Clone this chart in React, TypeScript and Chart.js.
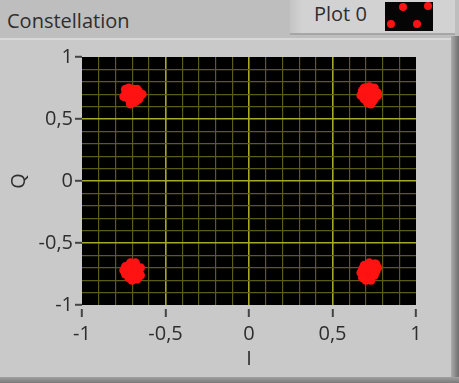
import React, { useEffect, useRef } from "react";
import { Chart, registerables } from "chart.js";

Chart.register(...registerables);

// ---- data ----
const seriesName = "Plot 0";
const chartTitle = "Constellation";
const xAxisTitle = "I";
const yAxisTitle = "Q";
const axisMin = -1;
const axisMax = 1;

const clusterTopLeftI = [-0.74, -0.72, -0.69, -0.66, -0.73, -0.70, -0.67, -0.64, -0.75, -0.71, -0.68, -0.65, -0.72, -0.69, -0.66, -0.70, -0.74, -0.67, -0.71, -0.68];
const clusterTopLeftQ = [0.74, 0.75, 0.74, 0.72, 0.71, 0.72, 0.71, 0.70, 0.68, 0.69, 0.68, 0.69, 0.66, 0.65, 0.66, 0.63, 0.70, 0.74, 0.62, 0.64];

const clusterTopRightI = [0.69, 0.72, 0.75, 0.68, 0.71, 0.74, 0.77, 0.67, 0.70, 0.73, 0.76, 0.69, 0.72, 0.75, 0.71, 0.74, 0.68, 0.77, 0.70, 0.73];
const clusterTopRightQ = [0.75, 0.76, 0.75, 0.72, 0.73, 0.72, 0.71, 0.69, 0.70, 0.70, 0.68, 0.66, 0.67, 0.66, 0.63, 0.64, 0.73, 0.69, 0.75, 0.62];

const clusterBottomLeftI = [-0.71, -0.68, -0.74, -0.71, -0.68, -0.65, -0.75, -0.72, -0.69, -0.66, -0.74, -0.71, -0.68, -0.65, -0.72, -0.69, -0.70, -0.67, -0.73, -0.66];
const clusterBottomLeftQ = [-0.66, -0.66, -0.69, -0.69, -0.68, -0.70, -0.72, -0.72, -0.71, -0.73, -0.75, -0.75, -0.74, -0.76, -0.78, -0.78, -0.80, -0.79, -0.70, -0.77];

const clusterBottomRightI = [0.72, 0.75, 0.69, 0.72, 0.75, 0.68, 0.71, 0.74, 0.77, 0.67, 0.70, 0.73, 0.76, 0.69, 0.72, 0.75, 0.70, 0.73, 0.68, 0.76];
const clusterBottomRightQ = [-0.66, -0.67, -0.68, -0.69, -0.69, -0.71, -0.72, -0.71, -0.70, -0.74, -0.75, -0.74, -0.73, -0.77, -0.78, -0.76, -0.80, -0.80, -0.78, -0.67];

const FONT = "'Open Sans', 'DejaVu Sans', sans-serif";
const TEXT = "#2e2e2e";

function toPoints(iv: number[], qv: number[]) {
  return iv.map((x, k) => ({ x, y: qv[k] }));
}

function isMajor(v: number) {
  return Math.round(v * 10) % 5 === 0;
}
function isEdge(v: number) {
  return Math.abs(Math.abs(v) - 1) < 1e-6;
}
function fmt(v: number) {
  const r = Math.round(v * 10) / 10;
  return String(r).replace(".", ",");
}

const plotBg = {
  id: "plotBg",
  beforeDraw(chart: any) {
    const { ctx, chartArea } = chart;
    ctx.save();
    ctx.fillStyle = "#000000";
    ctx.fillRect(chartArea.left, chartArea.top, chartArea.right - chartArea.left, chartArea.bottom - chartArea.top);
    ctx.restore();
  },
};

function gridColor(c: any) {
  const v = c.tick ? c.tick.value : 0;
  if (isEdge(v)) return "rgba(0,0,0,0)";
  return isMajor(v) ? "rgb(168,168,40)" : "rgb(92,92,24)";
}
function gridWidth(c: any) {
  const v = c.tick ? c.tick.value : 0;
  return isMajor(v) ? 1.6 : 1.2;
}
function tickColor(c: any) {
  const v = c.tick ? c.tick.value : 0;
  return isMajor(v) ? "#444444" : "rgba(0,0,0,0)";
}

export default function App() {
  const ref = useRef<HTMLCanvasElement | null>(null);

  useEffect(() => {
    document.body.style.margin = "0";
    if (!ref.current) return;
    const data = [
      ...toPoints(clusterTopLeftI, clusterTopLeftQ),
      ...toPoints(clusterTopRightI, clusterTopRightQ),
      ...toPoints(clusterBottomLeftI, clusterBottomLeftQ),
      ...toPoints(clusterBottomRightI, clusterBottomRightQ),
    ];
    const chart = new Chart(ref.current, {
      type: "scatter",
      data: {
        datasets: [
          {
            label: seriesName,
            data,
            backgroundColor: "rgb(255,18,18)",
            borderWidth: 0,
            pointRadius: 4.5,
            pointHoverRadius: 4.5,
          },
        ],
      },
      options: {
        animation: false,
        responsive: false,
        events: [],
        layout: { padding: { left: 0, top: 57, right: 43, bottom: 0 } },
        plugins: { legend: { display: false }, tooltip: { enabled: false }, title: { display: false } },
        scales: {
          x: {
            type: "linear",
            min: axisMin,
            max: axisMax,
            afterFit: (s: any) => {
              s.height = 78;
            },
            border: { display: false },
            grid: {
              color: gridColor,
              lineWidth: gridWidth,
              drawTicks: true,
              tickLength: 12,
              tickColor: tickColor,
              tickWidth: 2,
              tickBorderDash: [0, 4, 20, 20],
            },
            ticks: {
              stepSize: 0.1,
              autoSkip: false,
              maxRotation: 0,
              padding: 5,
              color: TEXT,
              font: { family: FONT, size: 20 },
              callback: (v: any) => (isMajor(Number(v)) ? fmt(Number(v)) : ""),
            },
            title: {
              display: true,
              text: xAxisTitle,
              color: TEXT,
              font: { family: FONT, size: 20 },
              padding: { top: 0, bottom: 12 },
            },
          },
          y: {
            type: "linear",
            min: axisMin,
            max: axisMax,
            afterFit: (s: any) => {
              s.width = 82;
            },
            border: { display: false },
            grid: {
              color: gridColor,
              lineWidth: gridWidth,
              drawTicks: true,
              tickLength: 7,
              tickColor: tickColor,
              tickWidth: 2,
            },
            ticks: {
              stepSize: 0.1,
              autoSkip: false,
              padding: 2,
              color: TEXT,
              font: { family: FONT, size: 20 },
              callback: (v: any) => (isMajor(Number(v)) ? fmt(Number(v)) : ""),
            },
            title: {
              display: true,
              text: yAxisTitle,
              color: TEXT,
              font: { family: FONT, size: 20 },
              padding: { top: 7, bottom: 0 },
            },
          },
        },
      },
      plugins: [plotBg],
    });
    return () => chart.destroy();
  }, []);

  return (
    <div style={{ position: "relative", width: 459, height: 383, overflow: "hidden", background: "#c9c9c9", fontFamily: FONT }}>
      <div style={{ position: "absolute", left: 0, top: 0, width: 459, height: 38, background: "#bebebe" }} />
      <div style={{ position: "absolute", left: 0, top: 38, width: 459, height: 2, background: "#d8d8d8" }} />
      <div
        style={{
          position: "absolute",
          left: 290,
          top: 0,
          width: 165,
          height: 33,
          background: "linear-gradient(to right, #c4c4c4, #d2d2d2 12px, #d2d2d2)",
          borderBottom: "2px solid #a6a6a6",
        }}
      />
      <div
        style={{
          position: "absolute",
          left: 7,
          top: 9,
          fontSize: 20,
          lineHeight: "24px",
          color: TEXT,
          whiteSpace: "nowrap",
        }}
      >
        {chartTitle}
      </div>
      <div
        style={{
          position: "absolute",
          left: 314,
          top: 2,
          fontSize: 20,
          lineHeight: "24px",
          color: TEXT,
          whiteSpace: "nowrap",
        }}
      >
        {seriesName}
      </div>
      <div style={{ position: "absolute", left: 385, top: 2, width: 48, height: 29, background: "#050505" }}>
        {[
          [18, 5],
          [43, 4],
          [6, 22],
          [32, 22],
        ].map(([cx, cy], k) => (
          <div
            key={k}
            style={{
              position: "absolute",
              left: cx - 4,
              top: cy - 4,
              width: 8,
              height: 8,
              borderRadius: 4,
              background: "rgb(255,18,18)",
            }}
          />
        ))}
      </div>
      <div
        style={{
          position: "absolute",
          left: 451,
          top: 36,
          width: 8,
          height: 347,
          background: "linear-gradient(to right, #acacac, #6e6e6e)",
        }}
      />
      <div
        style={{
          position: "absolute",
          left: 0,
          top: 377,
          width: 459,
          height: 6,
          background: "linear-gradient(#a0a0a0, #7a7a7a)",
        }}
      />
      <canvas ref={ref} width={459} height={383} style={{ position: "absolute", left: 0, top: 0 }} />
    </div>
  );
}
